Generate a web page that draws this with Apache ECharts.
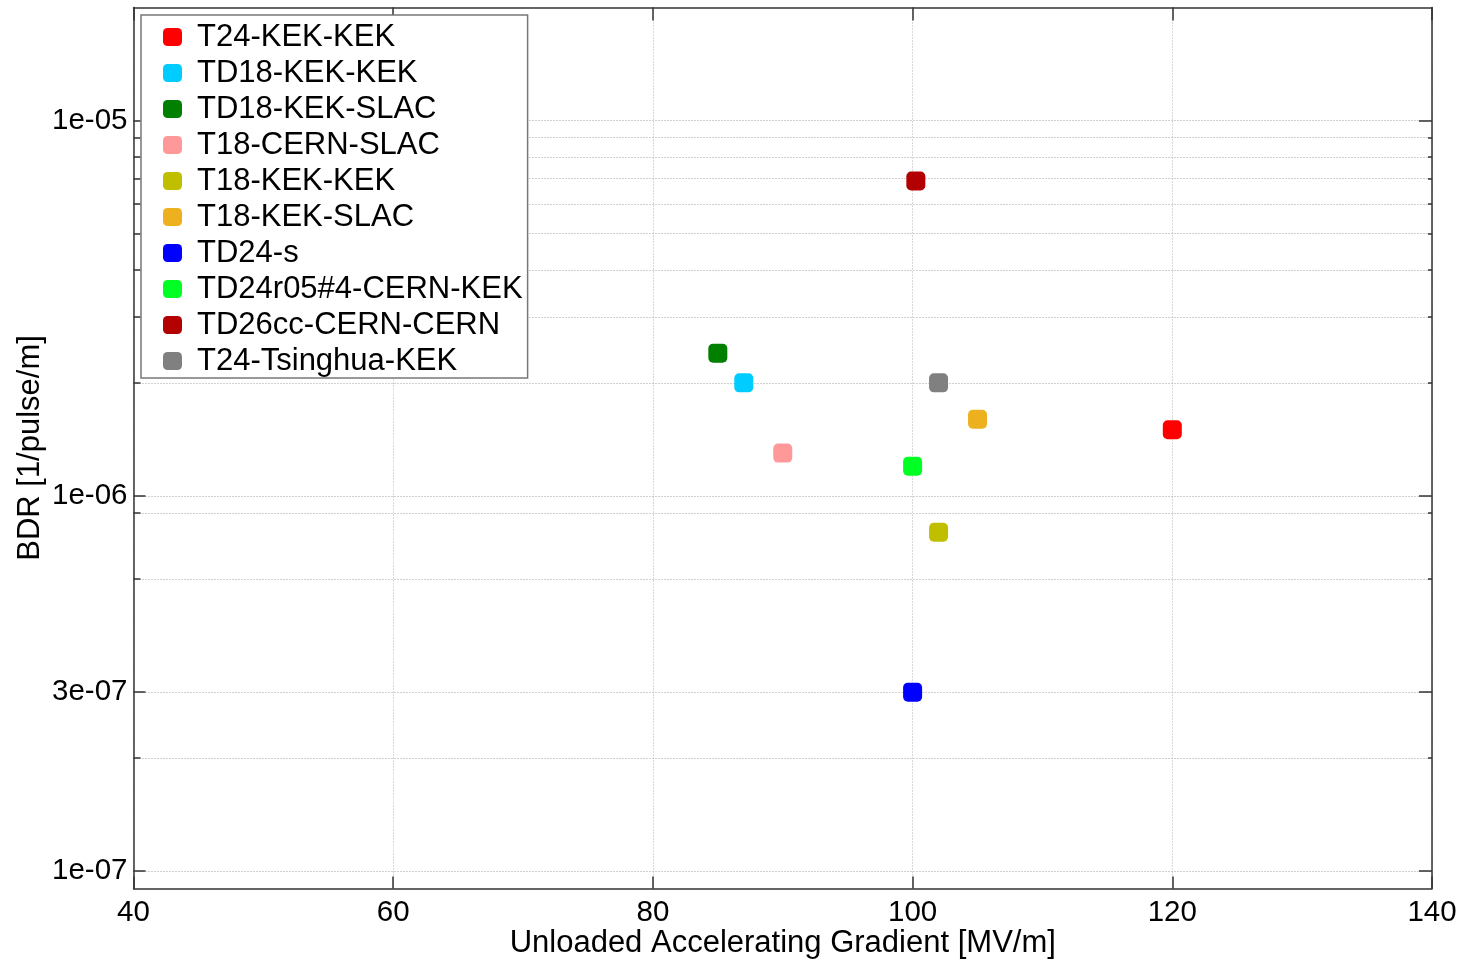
<!DOCTYPE html>
<html><head><meta charset="utf-8">
<script src="https://cdn.jsdelivr.net/npm/echarts@6/dist/echarts.min.js"></script>
<style>html,body{margin:0;padding:0;background:#fff}#c{width:1464px;height:959px}</style>
</head><body><div id="c"></div>
<script>
// ---- data ----
const seriesNames = ['T24-KEK-KEK','TD18-KEK-KEK','TD18-KEK-SLAC','T18-CERN-SLAC','T18-KEK-KEK','T18-KEK-SLAC','TD24-s','TD24r05#4-CERN-KEK','TD26cc-CERN-CERN','T24-Tsinghua-KEK'];
const gradients = [120, 87, 85, 90, 102, 105, 100, 100, 100.25, 102];
const bdrs = [1.5e-6, 2.0e-6, 2.4e-6, 1.3e-6, 8e-7, 1.6e-6, 3e-7, 1.2e-6, 6.9e-6, 2.0e-6];
const palette = ['#ff0000','#00ccff','#007f00','#ff9999','#bfbf00','#edb120','#0000ff','#00ff22','#b30000','#808080'];
const xMin = 40, xMax = 140, xStep = 20;
const yMin = 9e-8, yMax = 2e-5;
const yGridValues = [1e-7,2e-7,3e-7,6e-7,9e-7,1e-6,2e-6,3e-6,4e-6,5e-6,6e-6,7e-6,8e-6,9e-6,1e-5];
const yLabelValues = [1e-7,3e-7,1e-6,1e-5];
const yLongTicksLeft = [1e-7,3e-7,1e-6];
const yLongTicksRight = [1e-7,3e-7,1e-6,1e-5];
const xTitle = 'Unloaded Accelerating Gradient [MV/m]';
const yTitle = 'BDR [1/pulse/m]';

const FONT = '"Liberation Sans", Arial, Helvetica, sans-serif';
const AXC = '#333';
function fmtExp(v){
  const s = Number(v).toExponential(0);
  const parts = s.split('e');
  const sign = parts[1][0];
  const d = parts[1].slice(1).padStart(2,'0');
  return parts[0] + 'e' + sign + d;
}
const chart = echarts.init(document.getElementById('c'), null, {renderer:'canvas'});
const baseY = {type:'log', min:yMin, max:yMax, logBase:10};
const option = {
  animation:false,
  backgroundColor:'#fff',
  grid:{left:133.5, right:32, top:7.5, bottom:70.6, containLabel:false, outerBoundsMode:'none'},
  legend:{
    orient:'vertical', left:141, top:15, padding:[5,5,0,22], itemGap:2,
    itemWidth:19, itemHeight:18, icon:'roundRect',
    backgroundColor:'#fff', borderColor:'#777', borderWidth:1.5,
    textStyle:{fontSize:31, fontFamily:FONT, color:'#000', lineHeight:34, padding:[0,0,0,10]},
    data: seriesNames
  },
  xAxis:[
    {type:'value', position:'bottom', min:xMin, max:xMax, interval:xStep,
     name:xTitle, nameLocation:'middle', nameGap:40, nameMoveOverlap:false,
     nameTextStyle:{fontSize:31, fontFamily:FONT, color:'#000'},
     axisLine:{show:true, lineStyle:{color:AXC, width:1.5}},
     axisTick:{show:true, inside:true, length:12, lineStyle:{color:AXC, width:1.5}},
     axisLabel:{fontSize:29.5, fontFamily:FONT, color:'#000', margin:9},
     splitLine:{show:true, lineStyle:{color:'#b0b0b0', type:[1,2], width:1}}},
    {type:'value', position:'top', min:xMin, max:xMax, interval:xStep,
     axisLine:{show:true, lineStyle:{color:AXC, width:1.5}},
     axisTick:{show:true, inside:true, length:13, lineStyle:{color:AXC, width:1.5}},
     axisLabel:{show:false}, splitLine:{show:false}}
  ],
  yAxis:[
    Object.assign({}, baseY, {position:'left',
     name:yTitle, nameLocation:'middle', nameGap:88, nameRotate:90, nameMoveOverlap:false,
     nameTextStyle:{fontSize:31, fontFamily:FONT, color:'#000'},
     axisLine:{show:true, lineStyle:{color:AXC, width:1.5}},
     axisTick:{show:true, inside:true, length:7, customValues:yGridValues, lineStyle:{color:AXC, width:1.5}},
     axisLabel:{fontSize:29.5, fontFamily:FONT, color:'#000', margin:6, customValues:yLabelValues, formatter:fmtExp},
     splitLine:{show:true, lineStyle:{color:'#a0a0a0', type:[1,2], width:1}}}),
    Object.assign({}, baseY, {position:'left',
     axisLine:{show:false},
     axisTick:{show:true, inside:true, length:12, customValues:yLongTicksLeft, lineStyle:{color:AXC, width:1.5}},
     axisLabel:{show:false}, splitLine:{show:false}}),
    Object.assign({}, baseY, {position:'right',
     axisLine:{show:true, lineStyle:{color:AXC, width:1.5}},
     axisTick:{show:true, inside:true, length:4, customValues:yGridValues, lineStyle:{color:AXC, width:1.5}},
     axisLabel:{show:false}, splitLine:{show:false}}),
    Object.assign({}, baseY, {position:'right',
     axisLine:{show:false},
     axisTick:{show:true, inside:true, length:13, customValues:yLongTicksRight, lineStyle:{color:AXC, width:1.5}},
     axisLabel:{show:false}, splitLine:{show:false}})
  ],
  series: seriesNames.map((n,i)=>({
    type:'scatter', name:n, xAxisIndex:0, yAxisIndex:0,
    data:[[gradients[i], bdrs[i]]],
    symbol:'roundRect', symbolSize:19,
    itemStyle:{color:palette[i], opacity:1},
    emphasis:{disabled:true}
  }))
};
chart.setOption(option);
</script>
</body></html>
